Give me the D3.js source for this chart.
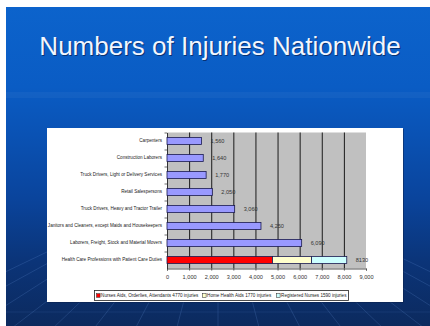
<!DOCTYPE html>
<html><head><meta charset="utf-8">
<script src="https://cdn.jsdelivr.net/npm/d3@7"></script>
<style>html,body{margin:0;padding:0;background:#fff;overflow:hidden}svg{display:block}</style>
</head><body>
<svg id="c" width="430" height="326"></svg>
<script>
const title = "Numbers of Injuries Nationwide";
const categories = [
  "Carpenters",
  "Construction Laborers",
  "Truck Drivers, Light or Delivery Services",
  "Retail Salespersons",
  "Truck Drivers, Heavy and Tractor Trailer",
  "Janitors and Cleaners, except Maids and Housekeepers",
  "Laborers, Freight, Stock and Material Movers",
  "Health Care Professions with Patient Care Duties"
];
const totals = [1560, 1640, 1770, 2050, 3060, 4250, 6090, 8130];
const valueLabels = ["1,560", "1,640", "1,770", "2,050", "3,060", "4,250", "6,090", "8130"];
const stackedCategory = "Health Care Professions with Patient Care Duties";
const segmentNames = ["Nurses Aids, Orderlies, Attendants", "Home Health Aids", "Registered Nurses"];
const segmentValues = [4770, 1770, 1590];
const segmentColors = ["#ff0000", "#ffffcc", "#ccffff"];
const legendLabels = ["Nurses Aids, Orderlies, Attendants  4770 injuries", "Home Health Aids  1770 injuries", "Registered Nurses  1590 injuries"];
const xTicks = [0, 1000, 2000, 3000, 4000, 5000, 6000, 7000, 8000, 9000];
const xTickLabels = ["0", "1,000", "2,000", "3,000", "4,000", "5,000", "6,000", "7,000", "8,000", "9,000"];

const svg = d3.select("#c");
const defs = svg.append("defs");
const g1 = defs.append("linearGradient").attr("id","bg").attr("x1",0).attr("y1",0).attr("x2",0).attr("y2",1);
[[0,"#0c63cc"],[0.25,"#0a5cc4"],[0.4,"#0a52b4"],[0.6,"#0a449c"],[0.8,"#0b3478"],[1,"#0c2a5e"]]
  .forEach(([o,c])=>g1.append("stop").attr("offset",o).attr("stop-color",c));
const clip = defs.append("clipPath").attr("id","low");
clip.append("rect").attr("x",6).attr("y",240).attr("width",424).attr("height",86);

// slide background
svg.append("rect").attr("x",6).attr("y",7).attr("width",424).attr("height",319).attr("fill","url(#bg)");
svg.append("rect").attr("x",6).attr("y",92).attr("width",424).attr("height",6).attr("fill","#ffffff").attr("opacity",0.04);
// faint perspective lines
const lines = svg.append("g").attr("clip-path","url(#low)");
d3.range(-8, 9).forEach(i=>{
  lines.append("line").attr("x1",218).attr("y1",170).attr("x2",218 + i*60).attr("y2",400)
    .attr("stroke","#6f9be0").attr("stroke-opacity",0.25).attr("stroke-width",0.8);
});
lines.append("line").attr("x1",6).attr("x2",430).attr("y1",312).attr("y2",312).attr("stroke","#6f9be0").attr("stroke-opacity",0.12);

// title
svg.append("text").attr("x",221).attr("y",56).attr("text-anchor","middle")
  .attr("font-family","Liberation Sans, Arial, sans-serif").attr("font-size",26)
  .attr("fill","#082050").attr("opacity",0.7).text(title);
svg.append("text").attr("x",220).attr("y",55).attr("text-anchor","middle")
  .attr("font-family","Liberation Sans, Arial, sans-serif").attr("font-size",26)
  .attr("fill","#f2f6ff").text(title);

// chart box
svg.append("rect").attr("x",48).attr("y",129).attr("width",356).attr("height",174).attr("fill","#0a1f4a").attr("opacity",0.5);
svg.append("rect").attr("x",47).attr("y",128).attr("width",356).attr("height",174).attr("fill","#ffffff");

const x = d3.scaleLinear().domain([0, 9000]).range([167, 366]);
const y = d3.scaleBand().domain(categories).range([132.5, 268.5]).paddingInner(0.59).paddingOuter(0.295);

// plot area
svg.append("rect").attr("x",x(0)).attr("y",132.5).attr("width",x(9000)-x(0)).attr("height",136).attr("fill","#c0c0c0");
// gridlines
svg.append("g").selectAll("line").data(xTicks.slice(1, -1)).join("line")
  .attr("x1",d=>x(d)+0.5).attr("x2",d=>x(d)+0.5).attr("y1",132.5).attr("y2",268.5)
  .attr("stroke","#1a1a1a").attr("stroke-width",1);

// x axis
const xAxis = d3.axisBottom(x).tickValues(xTicks).tickSize(2).tickFormat((d,i)=>xTickLabels[i]);
const gx = svg.append("g").attr("transform","translate(0,268.5)").call(xAxis);
gx.select(".domain").attr("stroke","#555");
gx.selectAll(".tick line").attr("stroke","#555");
gx.selectAll("text").attr("font-family","Liberation Sans, Arial, sans-serif").attr("font-size",5.6).attr("fill","#333").attr("dy","0.9em").attr("y",5);

// y axis
const yAxis = d3.axisLeft(y).tickSize(0).tickPadding(5);
const gy = svg.append("g").attr("transform","translate(167,0)").call(yAxis);
gy.select(".domain").attr("stroke","#333");
gy.selectAll("text").attr("font-family","Liberation Sans, Arial, sans-serif").attr("font-size",4.6).attr("fill","#222");
// small ticks at band boundaries
svg.append("g").selectAll("line").data(categories).join("line")
  .attr("x1",164.5).attr("x2",167).attr("y1",d=>y(d)-y.step()*0.295+0.5).attr("y2",d=>y(d)-y.step()*0.295+0.5)
  .attr("stroke","#333").attr("stroke-width",0.7);

// single bars
const singles = categories.map((c,i)=>({c, v: totals[i]})).filter(d=>d.c !== stackedCategory);
svg.append("g").selectAll("rect").data(singles).join("rect")
  .attr("x",x(0)).attr("y",d=>y(d.c)).attr("width",d=>x(d.v)-x(0)).attr("height",y.bandwidth())
  .attr("fill","#9999ff").attr("stroke","#1a1a50").attr("stroke-width",0.8);

// stacked bar
let acc = 0;
const segs = segmentValues.map((v,i)=>{const s={x0:acc,x1:acc+v,color:segmentColors[i]}; acc+=v; return s;});
svg.append("g").selectAll("rect").data(segs).join("rect")
  .attr("x",d=>x(d.x0)).attr("y",y(stackedCategory)).attr("width",d=>x(d.x1)-x(d.x0)).attr("height",y.bandwidth())
  .attr("fill",d=>d.color).attr("stroke","#1a1a50").attr("stroke-width",0.8);

// value labels
svg.append("g").selectAll("text").data(categories).join("text")
  .attr("x",(d,i)=>x(totals[i])+9).attr("y",d=>y(d)+y.bandwidth()/2).attr("dy","0.35em")
  .attr("font-family","Liberation Sans, Arial, sans-serif").attr("font-size",5.6).attr("fill","#333")
  .text((d,i)=>valueLabels[i]);

// legend
svg.append("rect").attr("x",94.5).attr("y",290.5).attr("width",254).attr("height",10).attr("fill","#fff").attr("stroke","#222").attr("stroke-width",0.8);
const legX = [96.5, 202.5, 276.5];
const lg = svg.append("g").selectAll("g").data(legendLabels).join("g").attr("transform",(d,i)=>`translate(${legX[i]},295.5)`);
lg.append("rect").attr("x",0).attr("y",-1.8).attr("width",3.6).attr("height",3.6).attr("fill",(d,i)=>segmentColors[i]).attr("stroke","#222").attr("stroke-width",0.5);
lg.append("text").attr("x",4.6).attr("y",0).attr("dy","0.35em").attr("font-family","Liberation Sans, Arial, sans-serif")
  .attr("font-size",4.6).attr("fill","#222").text(d=>d);
</script>
</body></html>
